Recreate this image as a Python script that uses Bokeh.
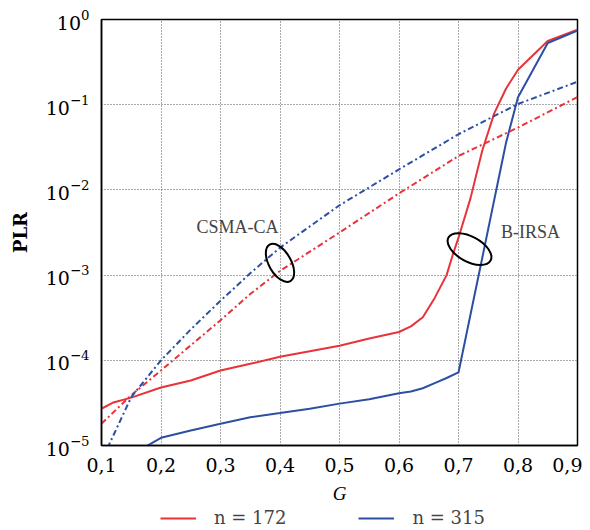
from bokeh.plotting import figure
from bokeh.layouts import column
from bokeh.models import Legend, LegendItem, Label, FixedTicker, CustomJSTickFormatter, Range1d
from bokeh.embed import file_html
from bokeh.resources import INLINE

# ---- data ----
g_birsa_172 = [0.10, 0.12, 0.15, 0.20, 0.25, 0.30, 0.35, 0.40, 0.45, 0.50, 0.55, 0.60,
               0.62, 0.64, 0.66, 0.68, 0.69, 0.70, 0.72, 0.74, 0.76, 0.78, 0.80, 0.85, 0.90]
plr_birsa_172 = [2.7e-5, 3.2e-5, 3.65e-5, 4.8e-5, 5.8e-5, 7.6e-5, 9.1e-5, 1.1e-4, 1.28e-4, 1.48e-4,
                 1.8e-4, 2.15e-4, 2.5e-4, 3.2e-4, 5.4e-4, 1.0e-3, 1.7e-3, 2.75e-3, 7.9e-3,
                 2.9e-2, 7.9e-2, 0.155, 0.257, 0.56, 0.76]

g_birsa_315 = [0.16, 0.20, 0.25, 0.30, 0.35, 0.40, 0.45, 0.50, 0.55, 0.60, 0.62, 0.64,
               0.66, 0.68, 0.70, 0.72, 0.74, 0.76, 0.78, 0.80, 0.85, 0.90]
plr_birsa_315 = [8.5e-6, 1.23e-5, 1.5e-5, 1.8e-5, 2.15e-5, 2.4e-5, 2.7e-5, 3.1e-5, 3.5e-5, 4.1e-5,
                 4.3e-5, 4.7e-5, 5.4e-5, 6.2e-5, 7.2e-5, 3.4e-4, 1.6e-3, 7.6e-3, 3.6e-2,
                 0.122, 0.53, 0.74]

g_csma = [0.10, 0.15, 0.20, 0.25, 0.30, 0.35, 0.40, 0.50, 0.60, 0.70, 0.80, 0.90]
plr_csma_172 = [1.8e-5, 3.9e-5, 7.6e-5, 1.5e-4, 2.95e-4, 6.0e-4, 1.12e-3, 3.16e-3, 9.1e-3,
                2.5e-2, 5.4e-2, 0.123]
plr_csma_315 = [6.6e-6, 3.7e-5, 1.0e-4, 2.3e-4, 5.0e-4, 1.05e-3, 2.1e-3, 6.6e-3, 1.74e-2,
                4.5e-2, 0.102, 0.186]

x_ticks = [0.1, 0.2, 0.3, 0.4, 0.5, 0.6, 0.7, 0.8, 0.9]
y_ticks = [1e-5, 1e-4, 1e-3, 1e-2, 1e-1, 1e0]
legend_labels = ["n = 172", "n = 315"]

RED = "#e8333a"
BLUE = "#2c4fa3"
SERIF = "DejaVu Serif"
NAN = float("nan")

p = figure(frame_width=476, frame_height=426, x_range=Range1d(0.1, 0.9), y_range=Range1d(1e-5, 1),
           y_axis_type="log", output_backend="svg", toolbar_location=None,
           min_border_left=101, min_border_top=19, min_border_right=5, min_border_bottom=60)

r172 = p.line(g_birsa_172, plr_birsa_172, line_color=RED, line_width=2)
r315 = p.line(g_birsa_315, plr_birsa_315, line_color=BLUE, line_width=2)
p.line(g_csma, plr_csma_172, line_color=RED, line_width=2, line_dash="6 3 2 3")
p.line(g_csma, plr_csma_315, line_color=BLUE, line_width=2, line_dash="6 3 2 3")

# annotation ellipses and texts
p.ellipse(x=[0.40], y=[1.39e-3], width=42, height=22, angle=-1.05,
          width_units="screen", height_units="screen",
          fill_color=None, line_color="black", line_width=2)
p.ellipse(x=[0.7185], y=[2.02e-3], width=48, height=25, angle=-0.5,
          width_units="screen", height_units="screen",
          fill_color=None, line_color="black", line_width=2)
p.add_layout(Label(x=0.3286, y=3.62e-3, text="CSMA-CA", text_align="center",
                   text_baseline="middle", text_font="Liberation Serif", text_font_size="18px"))
p.add_layout(Label(x=0.821, y=3.2e-3, text="B-IRSA", text_align="center",
                   text_baseline="middle", text_font="Liberation Serif", text_font_size="18px"))

# axes
p.xaxis.ticker = FixedTicker(ticks=x_ticks)
p.xaxis.formatter = CustomJSTickFormatter(code="return tick.toFixed(1).replace('.', ',');")
p.yaxis.ticker = FixedTicker(ticks=y_ticks)
for ax in (p.xaxis[0], p.yaxis[0]):
    ax.axis_line_color = "black"
    ax.axis_line_width = 1.5
    ax.major_tick_line_color = None
    ax.minor_tick_line_color = None
    ax.major_label_text_font = SERIF
    ax.major_label_text_font_size = "19px"
    ax.major_label_text_color = "black"
    ax.axis_label_text_color = "black"

p.xaxis.axis_label = "G"
p.xaxis.axis_label_text_font = "Liberation Serif"
p.xaxis.axis_label_text_font_style = "italic"
p.xaxis.axis_label_text_font_size = "19px"
p.xaxis.axis_label_standoff = 8
p.xaxis.major_label_standoff = 6

p.yaxis.axis_label = "PLR"
p.yaxis.axis_label_text_font = SERIF
p.yaxis.axis_label_text_font_style = "bold"
p.yaxis.axis_label_text_font_size = "18px"
p.yaxis.axis_label_standoff = 12
p.yaxis.major_label_standoff = 6

p.xgrid.grid_line_color = "#555555"
p.ygrid.grid_line_color = "#555555"
p.xgrid.grid_line_dash = "1 2"
p.ygrid.grid_line_dash = "1 2"
p.xgrid.grid_line_width = 1
p.ygrid.grid_line_width = 1

p.outline_line_color = "black"
p.outline_line_width = 1.5
p.outline_line_alpha = 1

# ---- legend strip below the plot (its frame is aligned with the main frame) ----
p2 = figure(width=582, height=25, output_backend="svg", toolbar_location=None,
            x_axis_location=None, y_axis_location=None,
            min_border=0, min_border_left=0, min_border_right=0, min_border_top=0,
            min_border_bottom=0, x_range=Range1d(0, 1), y_range=Range1d(0, 1))
p2.grid.visible = False
p2.outline_line_color = None
lr = p2.line(x=[NAN], y=[NAN], line_color=RED, line_width=2)
lb = p2.line(x=[NAN], y=[NAN], line_color=BLUE, line_width=2)
legend = Legend(items=[LegendItem(label=legend_labels[0], renderers=[lr]),
                       LegendItem(label=legend_labels[1], renderers=[lb])],
                orientation="horizontal", location=(59, 3),
                label_text_font=SERIF, label_text_font_size="18px",
                glyph_width=36, glyph_height=18, spacing=72, border_line_color=None,
                background_fill_alpha=0, padding=0, margin=0, label_standoff=18,
                label_height=18)
p2.add_layout(legend)

layout = column(p, p2, spacing=0)
open("out.html", "w").write(file_html(layout, INLINE))
